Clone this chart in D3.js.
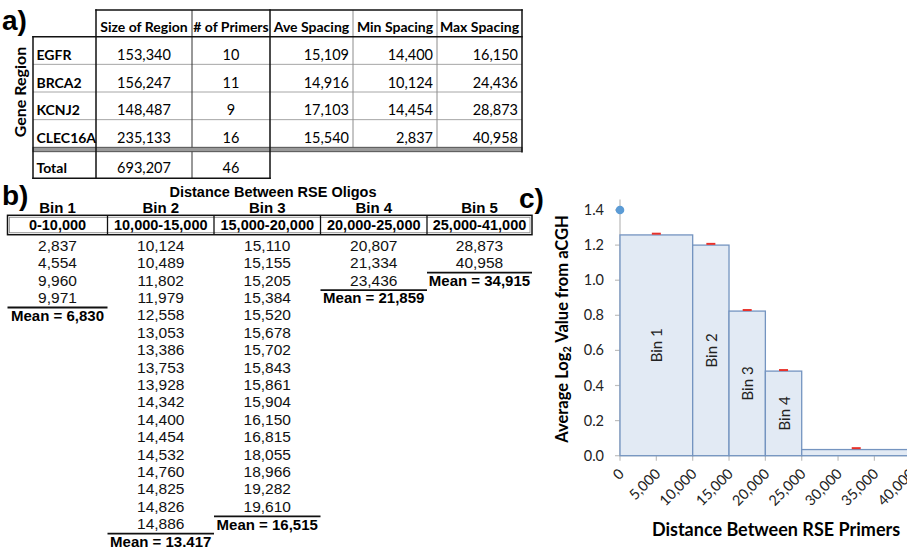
<!DOCTYPE html>
<html><head><meta charset="utf-8">
<script src="https://cdn.jsdelivr.net/npm/d3@7"></script>
<style>html,body{margin:0;padding:0;background:#fff}svg{display:block}</style>
</head><body>
<script>
// ---------- DATA ----------
// Panel a
const tableHeaders = ["Size of Region", "# of Primers", "Ave Spacing", "Min Spacing", "Max Spacing"];
const genes = ["EGFR", "BRCA2", "KCNJ2", "CLEC16A"];
const sizeOfRegion = ["153,340", "156,247", "148,487", "235,133"];
const numPrimers = ["10", "11", "9", "16"];
const aveSpacing = ["15,109", "14,916", "17,103", "15,540"];
const minSpacing = ["14,400", "10,124", "14,454", "2,837"];
const maxSpacing = ["16,150", "24,436", "28,873", "40,958"];
const totalRow = ["Total", "693,207", "46"];
// Panel b
const binNames = ["Bin 1", "Bin 2", "Bin 3", "Bin 4", "Bin 5"];
const binRanges = ["0-10,000", "10,000-15,000", "15,000-20,000", "20,000-25,000", "25,000-41,000"];
const bin1Values = ["2,837", "4,554", "9,960", "9,971"];
const bin2Values = ["10,124", "10,489", "11,802", "11,979", "12,558", "13,053", "13,386", "13,753", "13,928",
  "14,342", "14,400", "14,454", "14,532", "14,760", "14,825", "14,826", "14,886"];
const bin3Values = ["15,110", "15,155", "15,205", "15,384", "15,520", "15,678", "15,702", "15,843",
  "15,861", "15,904", "16,150", "16,815", "18,055", "18,966", "19,282", "19,610"];
const bin4Values = ["20,807", "21,334", "23,436"];
const bin5Values = ["28,873", "40,958"];
const binMeans = ["Mean = 6,830", "Mean = 13.417", "Mean = 16,515", "Mean = 21,859", "Mean = 34,915"];
// Panel c
const barStart = [0, 10000, 15000, 20000, 25000];
const barEnd = [10000, 15000, 20000, 25000, 41000];
const barValues = [1.258, 1.2, 0.824, 0.482, 0.035];
const barLabels = ["Bin 1", "Bin 2", "Bin 3", "Bin 4", ""];
const markerX = [5000, 12500, 17500, 22500, 32500];
const markerValues = [1.265, 1.207, 0.83, 0.488, 0.043];
const dotX = [0];
const dotY = [1.4];
const xTicks = [0, 5000, 10000, 15000, 20000, 25000, 30000, 35000, 40000];
const yTicks = [0, 0.2, 0.4, 0.6, 0.8, 1.0, 1.2, 1.4];

// ---------- DRAW ----------
const W = 907, H = 547;
const svg = d3.select("body").append("svg").attr("width", W).attr("height", H);
const CAL = "Lato, 'Open Sans', sans-serif";
const ARI = "'Liberation Sans', Arial, sans-serif";

// ===== Panel a =====
const ga = svg.append("g");
ga.append("text").attr("x", 2).attr("y", 30).attr("font-family", ARI).attr("font-weight", "bold")
  .attr("font-size", 28).text("a)");
ga.append("text").attr("transform", "translate(19,92) rotate(-90)").attr("text-anchor", "middle")
  .attr("dominant-baseline", "central").attr("font-family", CAL).attr("font-weight", "bold")
  .attr("font-size", 16).text("Gene Region");

const colEdge = [33, 96, 192, 270, 353, 437, 522];
const hTop = 10, hBot = 36.7, dTop = 147.3, dBot = 151.7, tBot = 178.3;
const rowY = d3.scaleLinear().domain([0, genes.length]).range([hBot, dTop]);

// light grid lines
genes.slice(1).forEach((g, i) => {
  ga.append("line").attr("x1", colEdge[0]).attr("x2", colEdge[6]).attr("y1", rowY(i + 1)).attr("y2", rowY(i + 1))
    .attr("stroke", "#a6a6a6").attr("stroke-width", 1);
});
[4, 5].forEach(c => ga.append("line").attr("x1", colEdge[c]).attr("x2", colEdge[c]).attr("y1", hTop).attr("y2", dTop)
  .attr("stroke", "#8c8c8c").attr("stroke-width", 1));
ga.append("line").attr("x1", colEdge[2]).attr("x2", colEdge[2]).attr("y1", hTop).attr("y2", tBot)
  .attr("stroke", "#333").attr("stroke-width", 1);
// double line
ga.append("rect").attr("x", colEdge[0]).attr("y", dTop).attr("width", colEdge[6] - colEdge[0]).attr("height", dBot - dTop)
  .attr("fill", "#9a9a9a").attr("stroke", "#444").attr("stroke-width", 0.9);
// thick borders
const blk = (x1, y1, x2, y2) => ga.append("line").attr("x1", x1).attr("y1", y1).attr("x2", x2).attr("y2", y2)
  .attr("stroke", "#111").attr("stroke-width", 1.5).attr("stroke-linecap", "square");
blk(colEdge[1], hTop, colEdge[6], hTop);
blk(colEdge[0], hBot, colEdge[6], hBot);
blk(colEdge[6], hTop, colEdge[6], dBot);
blk(colEdge[0], hBot, colEdge[0], tBot);
blk(colEdge[1], hTop, colEdge[1], tBot);
blk(colEdge[3], hTop, colEdge[3], tBot);
blk(colEdge[0], tBot, colEdge[3], tBot);

// header texts
tableHeaders.forEach((h, i) => {
  ga.append("text").attr("x", (colEdge[i + 1] + colEdge[i + 2]) / 2).attr("y", hBot - 5)
    .attr("text-anchor", "middle").attr("font-family", CAL).attr("font-weight", "bold").attr("font-size", 14).text(h);
});
const cols = [sizeOfRegion, numPrimers, aveSpacing, minSpacing, maxSpacing];
genes.forEach((g, r) => {
  const yb = rowY(r + 1) - 4.5;
  ga.append("text").attr("x", colEdge[0] + 3.5).attr("y", yb).attr("font-family", CAL).attr("font-weight", "bold")
    .attr("font-size", 14).text(g);
  cols.forEach((col, c) => {
    const center = c < 2;
    ga.append("text").attr("x", center ? (colEdge[c + 1] + colEdge[c + 2]) / 2 : colEdge[c + 2] - 4)
      .attr("y", yb).attr("text-anchor", center ? "middle" : "end")
      .attr("font-family", CAL).attr("font-size", 14.5).text(col[r]);
  });
});
ga.append("text").attr("x", colEdge[0] + 3.5).attr("y", tBot - 5).attr("font-family", CAL).attr("font-weight", "bold")
  .attr("font-size", 14).text(totalRow[0]);
[1, 2].forEach(c => ga.append("text").attr("x", (colEdge[c] + colEdge[c + 1]) / 2).attr("y", tBot - 5)
  .attr("text-anchor", "middle").attr("font-family", CAL).attr("font-size", 14.5).text(totalRow[c]));

// ===== Panel b =====
const gb = svg.append("g");
gb.append("text").attr("x", 2).attr("y", 205).attr("font-family", ARI).attr("font-weight", "bold")
  .attr("font-size", 28).text("b)");
gb.append("text").attr("x", 273).attr("y", 197).attr("text-anchor", "middle").attr("font-family", ARI)
  .attr("font-weight", "bold").attr("font-size", 14.5).text("Distance Between RSE Oligos");
const bEdge = [7.5, 107.5, 214, 320.5, 427, 532];
const bx = i => (bEdge[i] + bEdge[i + 1]) / 2;
const boxTop = 215.3, boxBot = 234.7;
gb.append("rect").attr("x", bEdge[0]).attr("y", boxTop).attr("width", bEdge[5] - bEdge[0]).attr("height", boxBot - boxTop)
  .attr("fill", "none").attr("stroke", "#111").attr("stroke-width", 1.5);
gb.append("rect").attr("x", bEdge[0] + 2).attr("y", boxTop + 2).attr("width", bEdge[5] - bEdge[0] - 4).attr("height", boxBot - boxTop - 4)
  .attr("fill", "none").attr("stroke", "#888").attr("stroke-width", 0.8);
bEdge.slice(1, 5).forEach(e => gb.append("line").attr("x1", e).attr("x2", e).attr("y1", boxTop).attr("y2", boxBot)
  .attr("stroke", "#111").attr("stroke-width", 1.3));
binNames.forEach((n, i) => {
  gb.append("text").attr("x", bx(i)).attr("y", 213).attr("text-anchor", "middle").attr("font-family", ARI)
    .attr("font-weight", "bold").attr("font-size", 15).text(n);
  gb.append("text").attr("x", bx(i)).attr("y", 230).attr("text-anchor", "middle").attr("font-family", ARI)
    .attr("font-weight", "bold").attr("font-size", 14.5).text(binRanges[i]);
});
const vRow = d3.scaleLinear().domain([0, 1]).range([245.3, 262.7]);
const allBins = [bin1Values, bin2Values, bin3Values, bin4Values, bin5Values];
allBins.forEach((vals, i) => {
  vals.forEach((v, r) => {
    gb.append("text").attr("x", bx(i)).attr("y", vRow(r) + 5.5).attr("text-anchor", "middle")
      .attr("font-family", ARI).attr("font-size", 15.5).attr("fill", "#111").text(v);
  });
  const n = vals.length;
  const uy = vRow(n - 1) + 10;
  gb.append("line").attr("x1", bEdge[i]).attr("x2", bEdge[i + 1]).attr("y1", uy).attr("y2", uy)
    .attr("stroke", "#111").attr("stroke-width", 1.8);
  gb.append("text").attr("x", bx(i)).attr("y", vRow(n) + 5.8).attr("text-anchor", "middle")
    .attr("font-family", ARI).attr("font-weight", "bold").attr("font-size", 15).text(binMeans[i]);
});

// ===== Panel c =====
const gc = svg.append("g");
gc.append("text").attr("x", 519).attr("y", 208).attr("font-family", ARI).attr("font-weight", "bold")
  .attr("font-size", 28).text("c)");
const x = d3.scaleLinear().domain([0, 41000]).range([620, 918]);
const y = d3.scaleLinear().domain([0, 1.4]).range([455.7, 210]);
// y axis
gc.append("line").attr("x1", x(0)).attr("x2", x(0)).attr("y1", y(0)).attr("y2", y(1.46))
  .attr("stroke", "#bfbfbf").attr("stroke-width", 1.3);
yTicks.forEach(t => {
  gc.append("line").attr("x1", x(0) - 5).attr("x2", x(0)).attr("y1", y(t)).attr("y2", y(t))
    .attr("stroke", "#bfbfbf").attr("stroke-width", 1.2);
  gc.append("text").attr("x", 604).attr("y", y(t)).attr("dy", "0.35em").attr("text-anchor", "end")
    .attr("font-family", CAL).attr("font-size", 14.5).attr("fill", "#222").text(d3.format(".1f")(t));
});
// x axis
gc.append("line").attr("x1", x(0)).attr("x2", W).attr("y1", y(0)).attr("y2", y(0))
  .attr("stroke", "#bfbfbf").attr("stroke-width", 1.3);
xTicks.forEach(t => {
  gc.append("line").attr("x1", x(t)).attr("x2", x(t)).attr("y1", y(0)).attr("y2", y(0) + 5)
    .attr("stroke", "#bfbfbf").attr("stroke-width", 1.2);
  gc.append("text").attr("transform", `translate(${x(t) + 5},${y(0) + 19}) rotate(-45)`)
    .attr("text-anchor", "end").attr("font-family", CAL).attr("font-size", 14.5).attr("fill", "#222")
    .text(d3.format(",")(t));
});
// bars
barValues.forEach((v, i) => {
  gc.append("rect").attr("x", x(barStart[i])).attr("y", y(v)).attr("width", x(barEnd[i]) - x(barStart[i]))
    .attr("height", y(0) - y(v)).attr("fill", "#e2eaf4").attr("stroke", "#7494c0").attr("stroke-width", 1.3);
  if (barLabels[i]) {
    gc.append("text").attr("transform", `translate(${(x(barStart[i]) + x(barEnd[i])) / 2},${(y(v) + y(0)) / 2}) rotate(-90)`)
      .attr("text-anchor", "middle").attr("dominant-baseline", "central").attr("font-family", CAL)
      .attr("font-size", 15).attr("fill", "#222").text(barLabels[i]);
  }
});
// markers
markerValues.forEach((v, i) => {
  gc.append("line").attr("x1", x(markerX[i]) - 4.5).attr("x2", x(markerX[i]) + 4.5).attr("y1", y(v)).attr("y2", y(v))
    .attr("stroke", "#e8322b").attr("stroke-width", 2);
});
dotX.forEach((d, i) => gc.append("circle").attr("cx", x(d)).attr("cy", y(dotY[i])).attr("r", 4.3).attr("fill", "#5b9bd5"));
// axis titles
const yt = gc.append("text").attr("transform", "translate(562,329) rotate(-90)").attr("text-anchor", "middle")
  .attr("dominant-baseline", "central").attr("font-family", CAL).attr("font-weight", "bold").attr("font-size", 16.5);
yt.append("tspan").text("Average Log");
yt.append("tspan").attr("font-size", 11).attr("dy", 4).text("2");
yt.append("tspan").attr("dy", -4).text(" Value from aCGH");
gc.append("text").attr("x", 776).attr("y", 536).attr("text-anchor", "middle").attr("font-family", CAL)
  .attr("font-weight", "bold").attr("font-size", 18).text("Distance Between RSE Primers");
</script>
</body></html>
